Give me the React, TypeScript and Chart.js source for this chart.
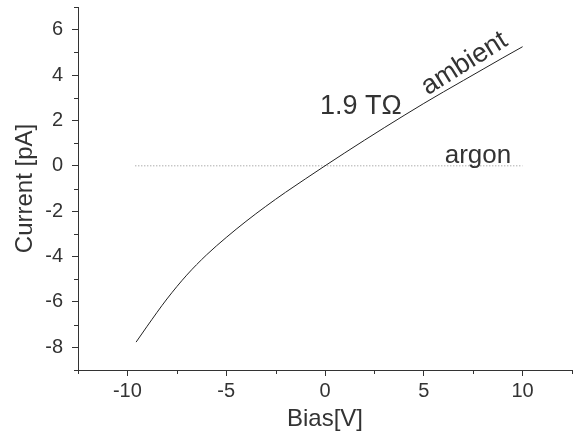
import React, { useEffect, useRef } from "react";
import { Chart, registerables } from "chart.js";

Chart.register(...registerables);

// Ambient measurement (Bias [V] -> Current [pA])
const ambientBias = [-9.56, -9, -8, -7, -6, -5, -4, -3, -2, -1, 0, 1, 2, 3, 4, 5, 6, 7, 8, 9, 10];
const ambientCurrent = [-7.77, -7.07, -5.87, -4.82, -3.93, -3.16, -2.45, -1.79, -1.17, -0.58, 0.0, 0.57, 1.13, 1.68, 2.22, 2.75, 3.26, 3.76, 4.26, 4.76, 5.25];

// Argon measurement
const argonBias = [-9.6, -5, 0, 5, 10];
const argonCurrent = [0, 0, 0, 0, 0];

// Axis ticks
const xMajorTicks = [-10, -5, 0, 5, 10];
const xMinorTicks = [-12.5, -7.5, -2.5, 2.5, 7.5, 12.5];
const yMajorTicks = [-8, -6, -4, -2, 0, 2, 4, 6];
const yMinorTicks = [-9, -7, -5, -3, -1, 1, 3, 5, 7];

// Text annotations (data coordinates)
const labelTexts = ["1.9 TΩ", "argon", "ambient"];
const labelX = [-0.25, 6.06, 5.2];
const labelY = [2.3, 0.12, 3.1];
const labelAngle = [0, 0, -32];
const labelSize = [27, 26, 27];

const FONT = "'Liberation Sans', Arial, sans-serif";
const INK = "#333333";

const minorTicksPlugin = {
  id: "minorTicks",
  afterDraw(chart: any) {
    const { ctx, scales } = chart;
    const xs = scales.x;
    const ys = scales.y;
    ctx.save();
    ctx.strokeStyle = INK;
    ctx.lineWidth = 1;
    ctx.beginPath();
    xMinorTicks.forEach((v) => {
      const px = Math.round(xs.getPixelForValue(v)) + 0.5;
      ctx.moveTo(px, xs.top);
      ctx.lineTo(px, xs.top + 4);
    });
    yMinorTicks.forEach((v) => {
      const py = Math.round(ys.getPixelForValue(v)) + 0.5;
      ctx.moveTo(ys.right, py);
      ctx.lineTo(ys.right - 4, py);
    });
    ctx.stroke();
    ctx.restore();
  },
};

const labelsPlugin = {
  id: "textLabels",
  afterDatasetsDraw(chart: any) {
    const { ctx, scales } = chart;
    ctx.save();
    ctx.fillStyle = INK;
    ctx.textAlign = "left";
    ctx.textBaseline = "alphabetic";
    labelTexts.forEach((t, i) => {
      const px = scales.x.getPixelForValue(labelX[i]);
      const py = scales.y.getPixelForValue(labelY[i]);
      ctx.save();
      ctx.font = `${labelSize[i]}px ${FONT}`;
      ctx.translate(px, py);
      ctx.rotate((labelAngle[i] * Math.PI) / 180);
      ctx.fillText(t, 0, 0);
      ctx.restore();
    });
    ctx.restore();
  },
};

export default function App() {
  const ref = useRef<HTMLCanvasElement | null>(null);

  useEffect(() => {
    if (!ref.current) return;
    const chart = new Chart(ref.current, {
      type: "scatter",
      data: {
        datasets: [
          {
            label: "ambient",
            data: ambientBias.map((x, i) => ({ x, y: ambientCurrent[i] })),
            showLine: true,
            borderColor: "#222222",
            borderWidth: 1,
            pointRadius: 0,
            cubicInterpolationMode: "monotone",
          },
          {
            label: "argon",
            data: argonBias.map((x, i) => ({ x, y: argonCurrent[i] })),
            showLine: true,
            borderColor: "#8a8a8a",
            borderWidth: 1,
            borderDash: [1, 2],
            pointRadius: 0,
          },
        ],
      },
      options: {
        animation: false,
        responsive: true,
        maintainAspectRatio: false,
        layout: { padding: { top: 7, right: 7, left: 0, bottom: 0 } },
        plugins: {
          legend: { display: false },
          tooltip: { enabled: false },
        },
        scales: {
          x: {
            type: "linear",
            min: -12.5,
            max: 12.5,
            afterFit: (s: any) => {
              s.height = 66;
              s.paddingLeft = 0;
              s.paddingRight = 0;
            },
            afterBuildTicks: (s: any) => {
              s.ticks = xMajorTicks.map((v) => ({ value: v }));
            },
            ticks: {
              color: INK,
              font: { family: FONT, size: 20 },
              padding: 3,
              maxRotation: 0,
            },
            grid: {
              drawOnChartArea: false,
              drawTicks: true,
              tickLength: 6,
              color: INK,
            },
            border: { display: true, color: INK, width: 1 },
            title: {
              display: true,
              text: "Bias[V]",
              color: INK,
              font: { family: FONT, size: 24 },
              padding: { top: 0, bottom: 2 },
            },
          },
          y: {
            type: "linear",
            min: -9,
            max: 7,
            afterFit: (s: any) => {
              s.width = 78;
              s.paddingTop = 0;
              s.paddingBottom = 0;
            },
            afterBuildTicks: (s: any) => {
              s.ticks = yMajorTicks.map((v) => ({ value: v }));
            },
            ticks: {
              color: INK,
              font: { family: FONT, size: 20 },
              padding: 9,
            },
            grid: {
              drawOnChartArea: false,
              drawTicks: true,
              tickLength: 6,
              color: INK,
            },
            border: { display: true, color: INK, width: 1 },
            title: {
              display: true,
              text: "Current [pA]",
              color: INK,
              font: { family: FONT, size: 24 },
              padding: { top: 11, bottom: 0 },
            },
          },
        },
      },
      plugins: [minorTicksPlugin, labelsPlugin],
    });
    return () => chart.destroy();
  }, []);

  return (
    <div style={{ position: "absolute", left: 0, top: 0, width: 579, height: 436, background: "#fff" }}>
      <canvas ref={ref} />
    </div>
  );
}
